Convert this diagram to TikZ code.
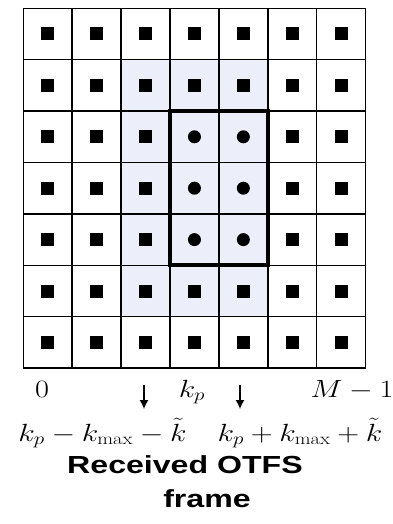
\documentclass[tikz,border=0pt]{standalone}
\usepackage{fontspec}
\setsansfont{Liberation Sans}
\usepackage{tikz}
\usetikzlibrary{arrows.meta,backgrounds}
\definecolor{softblue}{RGB}{236,238,249}
\newcommand{\hwide}[1]{\scalebox{1.22}[1]{#1}}
\newcommand{\twide}[1]{\scalebox{1.3}[1]{#1}}
\tikzset{
  cell/.style={draw,line width=1.5pt,minimum width=48.9pt,minimum height=51.4pt,inner sep=0pt,outer sep=0pt},
  sqmark/.style={fill=black,minimum size=13pt,inner sep=0pt},
  dotmark/.style={circle,fill=black,minimum size=13pt,inner sep=0pt},
  lab/.style={font=\fontsize{24}{28}\selectfont,anchor=base,inner sep=0pt},
  ttl/.style={font=\fontsize{24.7}{30}\selectfont\sffamily\bfseries,anchor=base,inner sep=0pt},
  arr/.style={-{Latex[length=9pt,width=9pt]},line width=1.3pt},
}
\begin{document}
\begin{tikzpicture}[x=1pt,y=-1pt]
\useasboundingbox (0,0) rectangle (393,524);
% 7x7 delay-Doppler grid
\foreach \r in {0,...,6}
  \foreach \c in {0,...,6}
    {\node[cell] (c\r\c) at ({23.3+48.9*(\c+0.5)},{8.3+51.4*(\r+0.5)}) {};
     \pgfmathtruncatemacro\inbox{(\r>1)&&(\r<5)&&(\c>2)&&(\c<5)}
     \ifnum\inbox=1 \node[dotmark] (m\r\c) at (c\r\c) {};
     \else \node[sqmark] (m\r\c) at (c\r\c) {};\fi}
\begin{scope}[on background layer]
\fill[softblue] (c12.north west) rectangle (c54.south east);
\end{scope}
\draw[line width=3.8pt] (c23.north west) rectangle (c44.south east);
% axis labels
\node[lab] (zero) at (42,397) {\hwide{$0$}};
\node[lab] (kp) at (192,397) {\hwide{$k_p$}};
\node[lab] (mlast) at (352,397) {\hwide{$M-1$}};
\node[lab] (klo) at (102.5,441) {\hwide{$k_p-k_{\max}-\tilde{k}$}};
\node[lab] (khi) at (300,441) {\hwide{$k_p+k_{\max}+\tilde{k}$}};
\coordinate (a1) at (144,385);
\coordinate (b1) at (144,409);
\coordinate (a2) at (240,385);
\coordinate (b2) at (240,409);
\draw[arr] (a1) -- (b1);
\draw[arr] (a2) -- (b2);
\node[ttl] (title1) at (185,473) {\twide{Received OTFS}};
\node[ttl] (title2) at (207,507) {\twide{frame}};
\end{tikzpicture}
\end{document}
